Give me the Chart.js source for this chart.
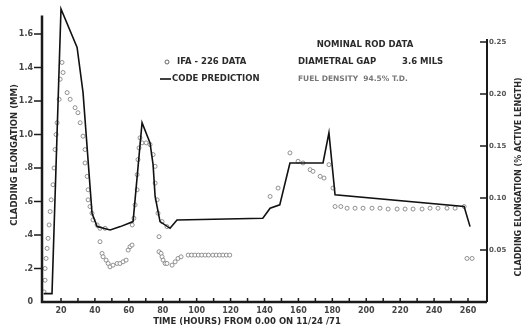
<!DOCTYPE html>
<html>
<head>
<meta charset="utf-8">
<script src="https://cdn.jsdelivr.net/npm/chart.js@4.4.1/dist/chart.umd.min.js"></script>
<style>
  html, body { margin: 0; padding: 0; background: #fff; }
  canvas { display: block; }
</style>
</head>
<body>
<canvas id="elong" width="527" height="331"></canvas>
<script>
// code prediction (solid line), hours vs. mm
const predHours = [10, 14.7, 20, 29.5, 33, 38.3, 41.3, 49, 55, 62.5, 67.8, 72.5, 74.3, 75.5, 78.4, 84.3, 88.4, 139, 143.3, 149, 155, 174.5, 178, 181.6, 257.7, 261.2];
const predMM    = [0.05, 0.05, 1.75, 1.52, 1.25, 0.53, 0.45, 0.43, 0.45, 0.48, 1.07, 0.95, 0.82, 0.63, 0.48, 0.44, 0.49, 0.50, 0.56, 0.58, 0.83, 0.83, 1.01, 0.64, 0.57, 0.45];

// IFA-226 measured points (open circles)
const ifaHours = [
  10.0, 10.6, 10.6, 11.2, 11.8, 12.4, 13.0, 13.6, 14.2, 15.3, 15.9, 16.5, 17.1, 17.7, 18.9, 19.5, 20.6, 21.2,
  23.6, 25.4, 28.3, 30.0, 31.3, 33.0, 34.2, 34.2, 35.4, 36.0, 36.0, 37.1, 38.3, 38.9, 41.3, 43.0, 46.0,
  43.0, 44.2, 44.8, 46.6, 47.8, 48.9, 50.7, 53.1, 54.8, 56.6, 58.4, 59.6, 60.7, 61.9,
  62.0, 63.0, 63.7, 64.9, 64.9, 65.4, 66.0, 66.6, 67.8, 70.2, 72.5, 74.3, 75.5, 75.5, 76.7, 77.2, 79.6, 82.5,
  77.8, 77.8, 79.0, 79.6, 80.2, 81.4, 82.5, 85.5, 87.3, 89.0, 90.8,
  95, 97, 99, 101, 103, 105, 107, 109.5, 111.5, 113.5, 115.5, 117.5, 119.5,
  143.3, 148.0, 155.0, 159.8, 162.7, 166.9, 168.6, 172.8, 175.1, 178.0, 180.4,
  181.6, 185, 188.7, 193.4, 198.1, 203.4, 208.1, 212.9, 218.2, 222.9, 227.6, 232.9, 237.6, 242.3, 247.6, 252.4, 257.7,
  259.4, 262.4
];
const ifaMM = [
  0.06, 0.13, 0.20, 0.26, 0.32, 0.38, 0.46, 0.54, 0.61, 0.70, 0.80, 0.91, 1.00, 1.07, 1.21, 1.33, 1.43, 1.37,
  1.25, 1.21, 1.16, 1.13, 1.07, 0.99, 0.91, 0.83, 0.75, 0.67, 0.61, 0.57, 0.53, 0.49, 0.46, 0.44, 0.44,
  0.36, 0.29, 0.27, 0.25, 0.23, 0.21, 0.22, 0.23, 0.23, 0.24, 0.25, 0.31, 0.33, 0.34,
  0.46, 0.50, 0.58, 0.67, 0.76, 0.85, 0.92, 0.98, 0.95, 0.95, 0.94, 0.88, 0.81, 0.71, 0.61, 0.53, 0.48, 0.45,
  0.39, 0.30, 0.29, 0.27, 0.25, 0.23, 0.23, 0.22, 0.24, 0.26, 0.27,
  0.28, 0.28, 0.28, 0.28, 0.28, 0.28, 0.28, 0.28, 0.28, 0.28, 0.28, 0.28, 0.28,
  0.63, 0.68, 0.89, 0.84, 0.83, 0.79, 0.78, 0.75, 0.74, 0.82, 0.68,
  0.57, 0.57, 0.56, 0.56, 0.56, 0.56, 0.56, 0.555, 0.555, 0.555, 0.555, 0.555, 0.56, 0.56, 0.56, 0.56, 0.57,
  0.26, 0.26
];

const mmTicks  = [0, 0.2, 0.4, 0.6, 0.8, 1.0, 1.2, 1.4, 1.6];
const pctTicks = [0.05, 0.10, 0.15, 0.20, 0.25];
const hourTicks = [20, 30, 40, 50, 60, 70, 80, 90, 100, 110, 120, 130, 140, 150, 160, 170, 180, 190, 200, 210, 220, 230, 240, 250, 260];

const ink = '#2b2b2b';
const tickFont = { family: 'DejaVu Sans', size: 8, weight: 'bold' };

function pts(xs, ys) {
  return xs.map((x, i) => ({ x: x, y: ys[i] }));
}

// tick marks are drawn by the plugin below, so the library's own ones stay invisible;
// a tick length (not label padding) keeps the labels off the axis
function hiddenGrid(len) {
  return { display: true, drawOnChartArea: false, drawTicks: true, tickLength: len, color: 'rgba(0,0,0,0)' };
}

// axis lines, inward tick marks, titles and the key text
const decor = {
  id: 'decor',
  afterDraw(chart) {
    const ctx = chart.ctx;
    const { x, y, y2 } = chart.scales;
    const x0 = x.left, x1 = x.right, yb = y.getPixelForValue(0);
    ctx.save();
    ctx.strokeStyle = '#1a1a1a';
    ctx.lineCap = 'butt';

    ctx.lineWidth = 2.5;
    ctx.beginPath();
    ctx.moveTo(x0, y.getPixelForValue(1.71));
    ctx.lineTo(x0, yb);
    ctx.lineTo(x1, yb);
    ctx.stroke();
    ctx.lineWidth = 2;
    ctx.beginPath();
    ctx.moveTo(x1, yb);
    ctx.lineTo(x1, y2.getPixelForValue(0.253));
    ctx.stroke();

    ctx.lineWidth = 1.5;
    ctx.beginPath();
    mmTicks.forEach(v => {
      if (v === 0) return;
      const py = y.getPixelForValue(v);
      ctx.moveTo(x0 - 8, py); ctx.lineTo(x0, py);
    });
    pctTicks.forEach(v => {
      const py = y2.getPixelForValue(v);
      ctx.moveTo(x1 - 7, py); ctx.lineTo(x1, py);
    });
    hourTicks.forEach(v => {
      const px = x.getPixelForValue(v);
      ctx.moveTo(px, yb - 4); ctx.lineTo(px, yb);
    });
    ctx.stroke();

    ctx.fillStyle = ink;
    ctx.textBaseline = 'middle';
    ctx.font = 'bold 8.5px "DejaVu Sans"';
    ctx.textAlign = 'center';
    ctx.fillText('TIME (HOURS) FROM 0.00 ON 11/24 /71', 247, 322);

    ctx.save();
    ctx.translate(15, 155);
    ctx.rotate(-Math.PI / 2);
    ctx.fillText('CLADDING ELONGATION (MM)', 0, 0);
    ctx.restore();
    ctx.save();
    ctx.translate(519, 177);
    ctx.rotate(-Math.PI / 2);
    ctx.font = 'bold 8px "DejaVu Sans"';
    ctx.fillText('CLADDING ELONGATION (% ACTIVE LENGTH)', 0, 0);
    ctx.restore();

    // key
    ctx.lineWidth = 0.9;
    ctx.strokeStyle = '#555';
    ctx.beginPath();
    ctx.arc(167, 62, 2, 0, Math.PI * 2);
    ctx.stroke();
    ctx.strokeStyle = '#111';
    ctx.lineWidth = 1.6;
    ctx.beginPath();
    ctx.moveTo(160, 79); ctx.lineTo(171, 79);
    ctx.stroke();

    ctx.textAlign = 'left';
    ctx.font = 'bold 8.5px "DejaVu Sans"';
    ctx.fillText('IFA - 226 DATA', 177, 62);
    ctx.fillText('CODE PREDICTION', 172, 79);
    ctx.fillText('DIAMETRAL GAP', 298, 62);
    ctx.fillText('3.6 MILS', 402, 62);
    ctx.textAlign = 'center';
    ctx.fillText('NOMINAL ROD DATA', 365, 45);
    ctx.textAlign = 'left';
    ctx.fillStyle = '#777';
    ctx.font = 'bold 7.5px "DejaVu Sans"';
    ctx.fillText('FUEL DENSITY  94.5% T.D.', 298, 79);
    ctx.restore();
  }
};

new Chart('elong', {
  type: 'scatter',
  data: {
    datasets: [{
      label: 'CODE PREDICTION',
      data: pts(predHours, predMM),
      showLine: true,
      borderColor: '#111',
      borderWidth: 1.6,
      pointRadius: 0,
      tension: 0,
      yAxisID: 'y'
    }, {
      label: 'IFA - 226 DATA',
      data: pts(ifaHours, ifaMM),
      showLine: false,
      pointRadius: 2,
      pointBorderWidth: 0.8,
      pointBorderColor: '#777',
      pointBackgroundColor: '#fff',
      yAxisID: 'y'
    }]
  },
  options: {
    responsive: false,
    devicePixelRatio: 1,
    animation: false,
    layout: { padding: { top: 5, left: 0, right: 0, bottom: 0 } },
    plugins: { legend: { display: false }, tooltip: { enabled: false } },
    scales: {
      x: {
        type: 'linear',
        min: 8.8,
        max: 271.2,
        grid: hiddenGrid(4),
        border: { display: false },
        afterBuildTicks: s => { s.ticks = hourTicks.map(v => ({ value: v })); },
        afterFit: s => { s.height = 29; },
        ticks: {
          autoSkip: false,
          maxRotation: 0,
          padding: 0,
          color: '#444',
          font: tickFont,
          callback: v => (v % 20 === 0 ? String(v) : '')
        }
      },
      y: {
        position: 'left',
        min: 0,
        max: 1.773,
        grid: hiddenGrid(9),
        border: { display: false },
        afterBuildTicks: s => { s.ticks = mmTicks.map(v => ({ value: v })); },
        afterFit: s => { s.width = 42; },
        ticks: {
          padding: 0,
          color: '#444',
          font: tickFont,
          callback: v => (v === 0 ? '0' : v < 1 ? '.' + Math.round(v * 10) : v.toFixed(1))
        }
      },
      y2: {
        position: 'right',
        min: 0,
        max: 0.2856,
        grid: hiddenGrid(2),
        border: { display: false },
        afterBuildTicks: s => { s.ticks = pctTicks.map(v => ({ value: v })); },
        afterFit: s => { s.width = 40; },
        ticks: {
          padding: 0,
          color: '#555',
          font: { family: 'DejaVu Sans', size: 7, weight: 'bold' },
          callback: v => v.toFixed(2)
        }
      }
    }
  },
  plugins: [decor]
});
</script>
</body>
</html>
